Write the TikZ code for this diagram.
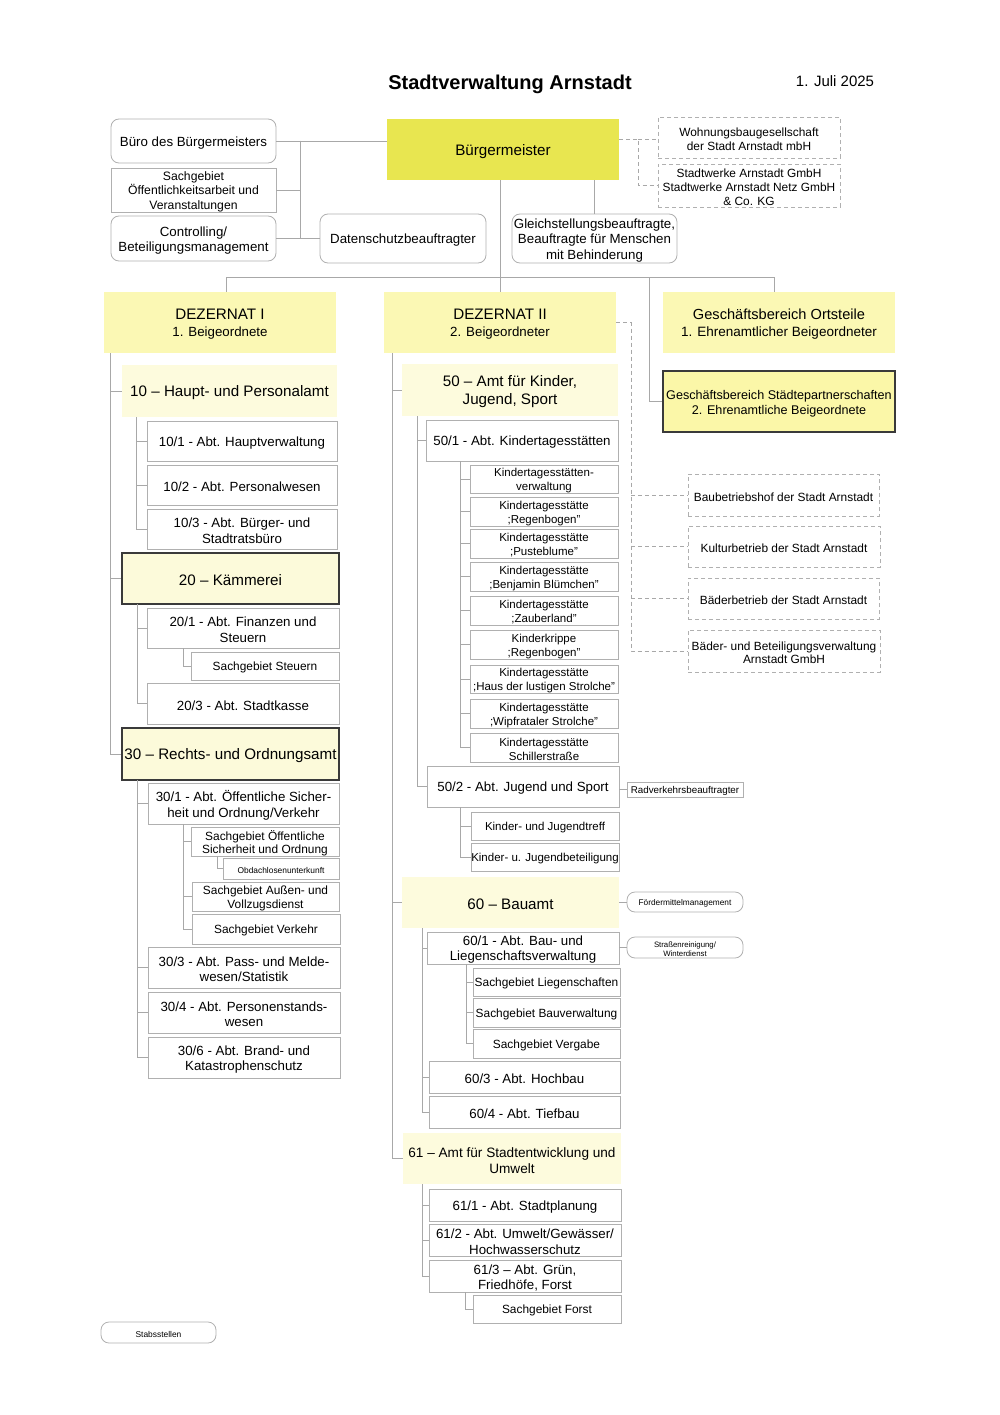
\documentclass[tikz,border=0pt]{standalone}
\usepackage{fontspec}
\setmainfont{Liberation Sans}
\definecolor{bgmY}{HTML}{E8E650}
\definecolor{dezY}{HTML}{FBF8B4}
\definecolor{amtY}{HTML}{FDFBDD}
\definecolor{kamY}{HTML}{FCFADA}
\definecolor{stpY}{HTML}{FBF7A8}
\definecolor{boxgray}{HTML}{B0B0B0}
\definecolor{linegray}{HTML}{A8A8A8}
\definecolor{darkb}{HTML}{3A3A3A}
\newcommand\bx[7]{%
  \node[#2, minimum width={(#5)-(#3)}, minimum height={(#6)-(#4)}] (#1) at ({((#3)+(#5))/2},{((#4)+(#6))/2}) {};
  \node[#2, draw=none, fill=none, minimum width=0pt, minimum height=0pt] (#1-txt) at ({((#3)+(#5))/2},{((#4)+(#6))/2+1.8}) {#7};}
\tikzset{
  base/.style={inner sep=0.5pt, align=center, text=black},
  box/.style={base, draw=boxgray, line width=0.8pt},
  rbox/.style={box, rounded corners=8pt},
  dbox/.style={box, dash pattern=on 4pt off 3pt},
  fillonly/.style={base},
  thick box/.style={base, draw=darkb, line width=1.4pt},
  conn/.style={draw=linegray, line width=0.8pt},
  dconn/.style={conn, dash pattern=on 4pt off 3pt},
  f15/.style={font=\fontsize{15.2}{17.5}\selectfont},
  f145/.style={font=\fontsize{14.6}{17}\selectfont},
  f135/.style={font=\fontsize{13.6}{16}\selectfont},
  f13/.style={font=\fontsize{13.3}{15.3}\selectfont},
  f125/.style={font=\fontsize{12.6}{15}\selectfont},
  f12/.style={font=\fontsize{12.2}{14.3}\selectfont},
  f115/.style={font=\fontsize{11.9}{13.8}\selectfont},
  f11/.style={font=\fontsize{11.5}{13.6}\selectfont},
  f10/.style={font=\fontsize{9.8}{11}\selectfont},
  f85/.style={font=\fontsize{8.4}{10}\selectfont},
  f83/.style={font=\fontsize{8.3}{10}\selectfont},
  f75/.style={font=\fontsize{7.8}{8.6}\selectfont},
}
\begin{document}
\begin{tikzpicture}[x=1pt,y=-1pt]
\fill[white] (0,0) rectangle (1000,1415);
\useasboundingbox (0,0) rectangle (1000,1415);

% titles
\node[base, font=\bfseries\fontsize{20}{24}\selectfont] (title) at (510,84) {Stadtverwaltung Arnstadt};
\node[base, font=\fontsize{15}{18}\selectfont] (date) at (835,81) {1. Juli 2025};

% top level
\bx{buero}{rbox,f13}{111}{119}{276}{163}{Büro des Bürgermeisters}
\bx{oeff}{box,f12}{111}{168}{276}{212}{Sachgebiet\\Öffentlichkeitsarbeit und\\Veranstaltungen}
\bx{ctrl}{rbox,f13}{111}{216}{276}{261}{Controlling/\\Beteiligungsmanagement}
\bx{dsb}{rbox,f13}{320}{214}{486}{263}{Datenschutzbeauftragter}
\bx{bgm}{fillonly,fill=bgmY,f15}{387}{119}{619}{180}{Bürgermeister}
\bx{gleich}{rbox,f13}{512}{214}{677}{263}{Gleichstellungsbeauftragte,\\Beauftragte für Menschen\\mit Behinderung}
\bx{wbg}{dbox,f115}{658}{117}{840}{158}{Wohnungsbaugesellschaft\\der Stadt Arnstadt mbH}
\bx{swa}{dbox,f115}{658}{164}{840}{207}{Stadtwerke Arnstadt GmbH\\Stadtwerke Arnstadt Netz GmbH\\\& Co. KG}

% Dezernate
\bx{dez1}{fillonly,fill=dezY,f15}{104}{292}{336}{353}{DEZERNAT I\\{\fontsize{13.3}{14.5}\selectfont 1. Beigeordnete}}
\bx{dez2}{fillonly,fill=dezY,f15}{384}{292}{616}{353}{DEZERNAT II\\{\fontsize{13.3}{14.5}\selectfont 2. Beigeordneter}}
\bx{ort}{fillonly,fill=dezY,f145}{663}{292}{895}{353}{Geschäftsbereich Ortsteile\\{\fontsize{13.5}{14.5}\selectfont 1. Ehrenamtlicher Beigeordneter}}
\bx{stp}{thick box,fill=stpY,f125}{663}{371}{895}{432}{Geschäftsbereich Städtepartnerschaften\\2. Ehrenamtliche Beigeordnete}

% Eigenbetriebe
\bx{bbh}{dbox,f115}{688}{474}{879}{516}{Baubetriebshof der Stadt Arnstadt}
\bx{kult}{dbox,f115}{688}{526}{880}{567}{Kulturbetrieb der Stadt Arnstadt}
\bx{baed}{dbox,f115}{688}{578}{879}{619}{Bäderbetrieb der Stadt Arnstadt}
\bx{bbv}{dbox,f115}{688}{630}{880}{672}{Bäder- und Beteiligungsverwaltung\\Arnstadt GmbH}

% Dezernat I
\bx{a10}{fillonly,fill=amtY,f15}{122}{365}{337}{417}{10 – Haupt- und Personalamt}
\bx{b101}{box,f13}{147}{421}{337}{461}{10/1 - Abt. Hauptverwaltung}
\bx{b102}{box,f13}{147}{465}{337}{505}{10/2 - Abt. Personalwesen}
\bx{b103}{box,f13}{147}{509}{337}{549}{10/3 - Abt. Bürger- und\\Stadtratsbüro}
\bx{a20}{thick box,fill=kamY,f15}{122}{553}{339}{604}{20 – Kämmerei}
\bx{b201}{box,f13}{147}{608}{339}{648}{20/1 - Abt. Finanzen und\\Steuern}
\bx{s20}{box,f115}{191}{652}{339}{680}{Sachgebiet Steuern}
\bx{b203}{box,f13}{147}{683}{339}{724}{20/3 - Abt. Stadtkasse}
\bx{a30}{thick box,fill=kamY,f15}{122}{728}{339}{780}{30 – Rechts- und Ordnungsamt}
\bx{b301}{box,f13}{148}{783}{339}{824}{30/1 - Abt. Öffentliche Sicher-\\heit und Ordnung/Verkehr}
\bx{s301}{box,f115}{191}{827}{339}{856}{Sachgebiet Öffentliche\\Sicherheit und Ordnung}
\bx{obd}{box,f85}{223}{858}{339}{879}{Obdachlosenunterkunft}
\bx{s302}{box,f115}{192}{882}{339}{911}{Sachgebiet Außen- und\\Vollzugsdienst}
\bx{s303}{box,f115}{192}{914}{340}{944}{Sachgebiet Verkehr}
\bx{b303}{box,f13}{148}{947}{340}{988}{30/3 - Abt. Pass- und Melde-\\wesen/Statistik}
\bx{b304}{box,f13}{148}{992}{340}{1033}{30/4 - Abt. Personenstands-\\wesen}
\bx{b306}{box,f13}{148}{1037}{340}{1078}{30/6 - Abt. Brand- und\\Katastrophenschutz}

% Dezernat II
\bx{a50}{fillonly,fill=amtY,f15}{402}{364}{618}{416}{50 – Amt für Kinder,\\Jugend, Sport}
\bx{b501}{box,f13}{426}{420}{618}{461}{50/1 - Abt. Kindertagesstätten}
\bx{k1}{box,f11}{470}{465}{618}{493}{Kindertagesstätten-\\verwaltung}
\bx{k2}{box,f11}{470}{497}{618}{526}{Kindertagesstätte\\;Regenbogen"}
\bx{k3}{box,f11}{470}{529}{618}{558}{Kindertagesstätte\\;Pusteblume"}
\bx{k4}{box,f11}{470}{562}{618}{591}{Kindertagesstätte\\;Benjamin Blümchen"}
\bx{k5}{box,f11}{470}{596}{618}{625}{Kindertagesstätte\\;Zauberland"}
\bx{k6}{box,f11}{470}{630}{618}{659}{Kinderkrippe\\;Regenbogen"}
\bx{k7}{box,f11}{470}{665}{618}{693}{Kindertagesstätte\\;Haus der lustigen Strolche"}
\bx{k8}{box,f11}{470}{699}{618}{728}{Kindertagesstätte\\;Wipfrataler Strolche"}
\bx{k9}{box,f11}{470}{733}{618}{762}{Kindertagesstätte\\Schillerstraße}
\bx{b502}{box,f13}{427}{766}{619}{807}{50/2 - Abt. Jugend und Sport}
\bx{rad}{box,f10}{627}{782}{743}{797}{Radverkehrsbeauftragter}
\bx{kj1}{box,f11}{471}{812}{619}{840}{Kinder- und Jugendtreff}
\bx{kj2}{box,f11}{471}{843}{619}{871}{Kinder- u. Jugendbeteiligung}
\bx{a60}{fillonly,fill=amtY,f15}{402}{877}{619}{928}{60 – Bauamt}
\bx{foerd}{rbox,f83}{627}{892}{743}{912}{Fördermittelmanagement}
\bx{b601}{box,f13}{427}{932}{619}{964}{60/1 - Abt. Bau- und\\Liegenschaftsverwaltung}
\bx{strw}{rbox,f75}{627}{937}{743}{958}{Straßenreinigung/\\Winterdienst}
\bx{s601}{box,f115}{473}{968}{620}{996}{Sachgebiet Liegenschaften}
\bx{s602}{box,f115}{473}{998}{620}{1027}{Sachgebiet Bauverwaltung}
\bx{s603}{box,f115}{473}{1029}{620}{1058}{Sachgebiet Vergabe}
\bx{b603}{box,f13}{429}{1061}{620}{1093}{60/3 - Abt. Hochbau}
\bx{b604}{box,f13}{429}{1096}{620}{1128}{60/4 - Abt. Tiefbau}
\bx{a61}{fillonly,fill=amtY,f135}{403}{1133}{621}{1184}{61 – Amt für Stadtentwicklung und\\Umwelt}
\bx{b611}{box,f13}{429}{1189}{621}{1221}{61/1 - Abt. Stadtplanung}
\bx{b612}{box,f13}{429}{1224}{621}{1256}{61/2 - Abt. Umwelt/Gewässer/\\Hochwasserschutz}
\bx{b613}{box,f13}{429}{1260}{621}{1292}{61/3 – Abt. Grün,\\Friedhöfe, Forst}
\bx{sforst}{box,f115}{473}{1295}{621}{1323}{Sachgebiet Forst}

% legend
\bx{stabs}{rbox,f85}{101}{1322}{216}{1343}{Stabsstellen}

% ---- connectors top
\draw[conn] (buero.east) -- (buero.east -| bgm.west);
\coordinate (j1) at (300,141);
\draw[conn] (j1) |- (oeff.east);
\draw[conn] (j1) |- (ctrl.east);
\draw[conn] (ctrl.east) -- (dsb.west);
\draw[conn] (bgm.south -| dez2.north) -- (dez2.north);
\draw[conn] (bgm.south -| gleich.north) -- (gleich.north);
\coordinate (barL) at (226,277);
\coordinate (barR) at (774,277);
\coordinate (barM) at (649,277);
\draw[conn] (barL |- dez1.north) -- (barL) -- (barR) -- (barR |- ort.north);
\draw[conn] (barM) |- (stp.west);
\coordinate (dj) at (638,139);
\draw[dconn] (dj -| bgm.east) -- (dj) |- (swa.west);
\draw[dconn] (dj) -- (dj -| wbg.west);
\coordinate (dz) at (631,322.5);
\draw[dconn] (dez2.east) -- (dz) |- (bbv.west);
\foreach \n in {bbh,kult,baed} \draw[dconn] (dz |- \n.west) -- (\n.west);

% ---- Dezernat I tree
\coordinate (t1) at (110,353);
\foreach \n in {a10,a20,a30} \draw[conn] (t1) |- (\n.west);
\coordinate (t10) at (136,417);
\foreach \n in {b101,b102,b103} \draw[conn] (t10) |- (\n.west);
\coordinate (t20) at (137,604);
\foreach \n in {b201,b203} \draw[conn] (t20) |- (\n.west);
\coordinate (t201) at (183,648);
\draw[conn] (t201) |- (s20.west);
\coordinate (t30) at (137,780);
\foreach \n in {b301,b303,b304,b306} \draw[conn] (t30) |- (\n.west);
\coordinate (t301) at (183,824);
\foreach \n in {s301,s302,s303} \draw[conn] (t301) |- (\n.west);
\coordinate (t3011) at (217,856);
\draw[conn] (t3011) |- (obd.west);

% ---- Dezernat II tree
\coordinate (t2) at (392,353);
\foreach \n in {a50,a60,a61} \draw[conn] (t2) |- (\n.west);
\coordinate (t50) at (417,416);
\foreach \n in {b501,b502} \draw[conn] (t50) |- (\n.west);
\coordinate (t501) at (460,461);
\foreach \n in {k1,k2,k3,k4,k5,k6,k7,k8,k9} \draw[conn] (t501) |- (\n.west);
\coordinate (t502) at (460,807);
\foreach \n in {kj1,kj2} \draw[conn] (t502) |- (\n.west);
\draw[conn] (b502.east |- rad.west) -- (rad.west);
\draw[conn] (a60.east |- foerd.west) -- (foerd.west);
\coordinate (t60) at (422,928);
\foreach \n in {b601,b603,b604} \draw[conn] (t60) |- (\n.west);
\draw[conn] (b601.east |- strw.west) -- (strw.west);
\coordinate (t601) at (466,964);
\foreach \n in {s601,s602,s603} \draw[conn] (t601) |- (\n.west);
\coordinate (t61) at (422,1184);
\foreach \n in {b611,b612,b613} \draw[conn] (t61) |- (\n.west);
\coordinate (t613) at (465,1292);
\draw[conn] (t613) |- (sforst.west);
\end{tikzpicture}
\end{document}
